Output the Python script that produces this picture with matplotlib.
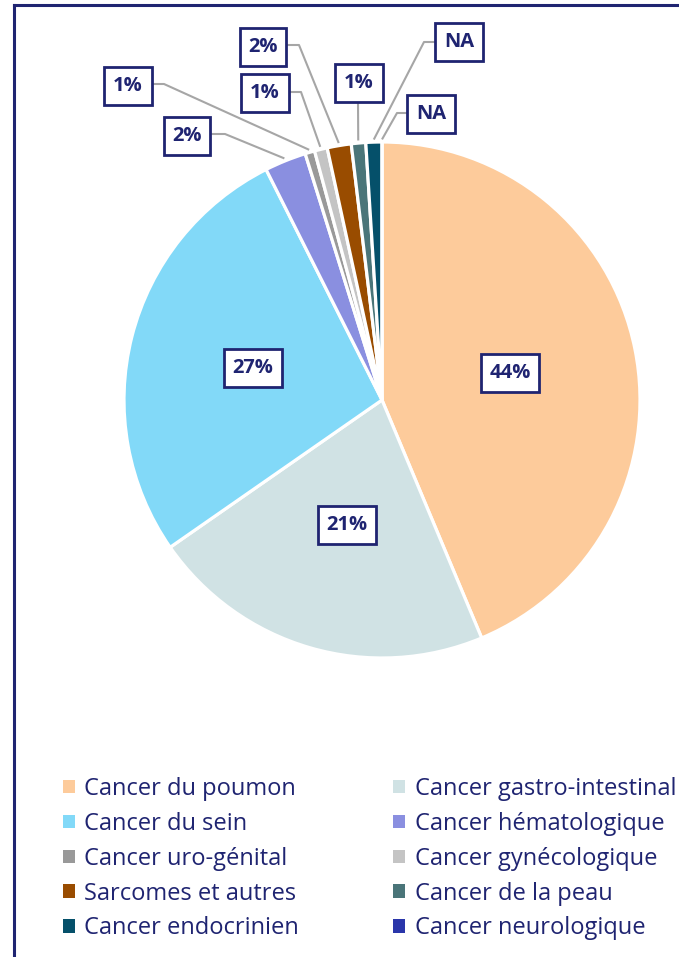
import numpy as np
import matplotlib
matplotlib.use('Agg')
import matplotlib.pyplot as plt
from matplotlib.patches import Patch
from matplotlib.lines import Line2D

plt.rcParams['font.family'] = ['Open Sans', 'DejaVu Sans']

# données
categories = ['Cancer du poumon', 'Cancer gastro-intestinal', 'Cancer du sein',
              'Cancer hématologique', 'Cancer uro-génital', 'Cancer gynécologique',
              'Sarcomes et autres', 'Cancer de la peau', 'Cancer endocrinien',
              'Cancer neurologique']
values = [43.6, 21.6, 27.2, 2.6, 0.6, 0.8, 1.5, 0.9, 1.0, 0.0]
labels = ['44%', '21%', '27%', '2%', '1%', '1%', '2%', '1%', 'NA', 'NA']
colors = ['#FDCB9B', '#D0E2E4', '#82D9F8', '#8A8FE0', '#999999', '#C4C4C4',
          '#994C00', '#4A7579', '#05506A', '#2A36AA']

navy = '#1f2471'
W, H = 679, 957
cx, cy, R = 382, 400, 258  # centre / rayon en pixels


def px(x, y):
    return (x - cx) / R, (cy - y) / R


fig = plt.figure(figsize=(W / 100, H / 100), dpi=100)
ax = fig.add_axes([0, 0, 1, 1])

wedges, _ = ax.pie(values, colors=colors, startangle=90, counterclock=False,
                   radius=1.0, wedgeprops=dict(edgecolor='white', linewidth=2.3))
ax.set_xlim(-cx / R, (W - cx) / R)
ax.set_ylim((cy - H) / R, cy / R)
ax.set_aspect('auto')
ax.axis('off')

# labels à l'intérieur (pixels)
inside = {0: (510, 373), 1: (347, 525), 2: (253, 368)}
# labels à l'extérieur : centre de la boîte, coude de la ligne
outside = {3: ((187, 136), (225, 134), 'r'),
           4: ((128, 86), (164, 84), 'r'),
           5: ((265, 93), (301, 92), 'r'),
           6: ((263, 47), (299, 45), 'r'),
           7: ((359, 83), (358, 102), 'b'),
           8: ((459, 42), (424, 42), 'l'),
           9: ((431, 114), (397, 113), 'l')}

box = dict(boxstyle='square,pad=0.43', fc='white', ec=navy, lw=2)
for i, (x, y) in inside.items():
    ax.text(*px(x, y), labels[i], ha='center', va='center', fontsize=14.5,
            fontweight='bold', color=navy, bbox=box)

for i, ((bx, by), (ex, ey), side) in outside.items():
    w = wedges[i]
    th = np.deg2rad((w.theta1 + w.theta2) / 2)
    tip = (1.01 * np.cos(th), 1.01 * np.sin(th))
    if side == 'r':
        start = px(bx + 24, ey)
    elif side == 'l':
        start = px(bx - 24, ey)
    else:
        start = px(ex, by + 18)
    elbow = px(ex, ey)
    ax.plot([start[0], elbow[0], tip[0]], [start[1], elbow[1], tip[1]],
            color='#A6A6A6', lw=1.5, zorder=1, solid_capstyle='butt')
    ax.text(*px(bx, by), labels[i], ha='center', va='center', fontsize=14.5,
            fontweight='bold', color=navy, bbox=box, zorder=3)

# légende (ordre par lignes)
order = [0, 2, 4, 6, 8, 1, 3, 5, 7, 9]
handles = [Patch(facecolor=colors[k], edgecolor='none') for k in order]
leg = fig.legend(handles, [categories[k] for k in order], ncol=2,
                 loc='upper left', bbox_to_anchor=(63 / W, 1 - 777 / H),
                 frameon=False, fontsize=17, labelcolor=navy,
                 handlelength=0.5, handleheight=0.5, handletextpad=0.4,
                 columnspacing=4.0, labelspacing=0.46, borderpad=0,
                 borderaxespad=0)

# bordure
fig.add_artist(Line2D([14 / W, 14 / W], [0, 1 - 5 / H], color=navy, lw=2.2,
                      transform=fig.transFigure))
fig.add_artist(Line2D([14 / W, 1], [1 - 5 / H, 1 - 5 / H], color=navy, lw=2.2,
                      transform=fig.transFigure))

fig.savefig('out.png', dpi=100)
